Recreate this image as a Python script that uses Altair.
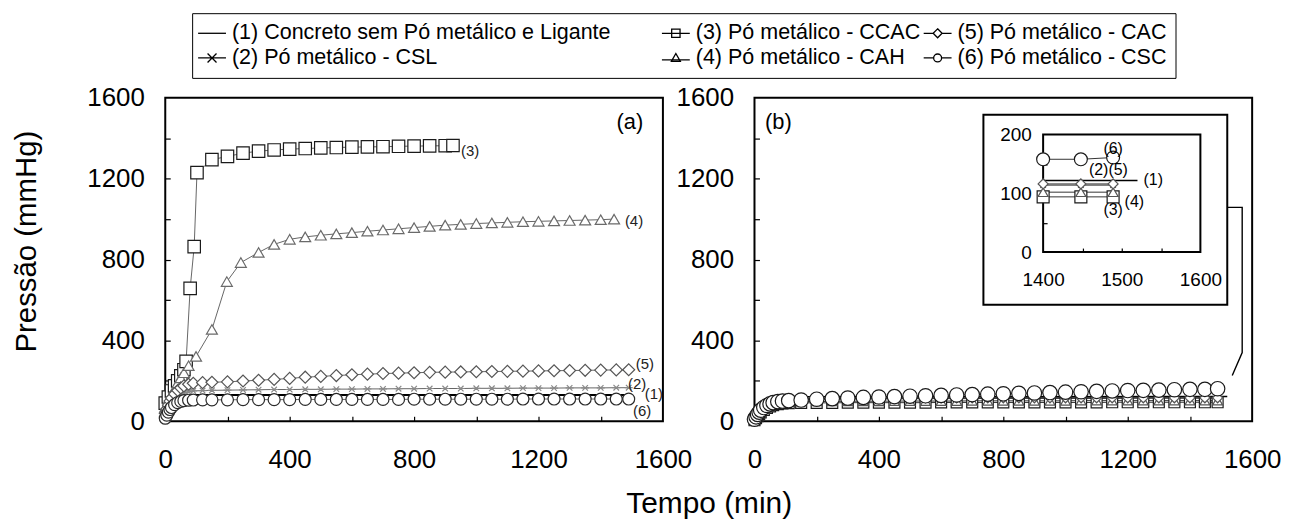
import altair as alt
import pandas as pd

FONT = "Liberation Sans"

S1 = "(1) Concreto sem Pó metálico e Ligante"
S2 = "(2) Pó metálico - CSL"
S3 = "(3) Pó metálico - CCAC"
S4 = "(4) Pó metálico - CAH"
S5 = "(5) Pó metálico - CAC"
S6 = "(6) Pó metálico - CSC"

# ---------------- panel (a) ----------------
TA = [0, 5, 10, 15, 20, 30, 40, 50, 60, 75, 90, 120, 150, 200, 250, 300, 350, 400, 450, 500,
      550, 600, 650, 700, 750, 800, 850, 900, 950, 1000, 1050, 1100, 1150, 1200, 1250, 1300,
      1350, 1400, 1450, 1490]
A1_T = [0, 10, 20, 30, 40, 50, 60, 80, 1490]
A1_P = [35, 65, 90, 108, 120, 126, 129, 130, 130]
A2_P = [25, 40, 55, 70, 85, 105, 120, 132, 140, 146, 150, 152, 153, 154, 155, 156, 157, 157, 158, 158,
        159, 159, 160, 160, 161, 161, 162, 162, 162, 163, 163, 163, 164, 164, 164, 165, 165, 165, 166, 166]
A3_T = [0, 10, 20, 30, 40, 50, 60, 67, 80, 93, 102, 150, 200, 250, 300, 350, 400, 450, 500, 550,
        600, 650, 700, 750, 800, 850, 900, 925]
A3_P = [90, 120, 150, 175, 200, 225, 255, 296, 657, 864, 1230, 1294, 1310, 1326, 1336, 1342, 1346, 1349,
        1352, 1354, 1356, 1357, 1358, 1360, 1361, 1362, 1363, 1364]
A4_T = [0, 10, 20, 30, 40, 50, 60, 75, 99, 150, 198, 243, 300, 350, 400, 450, 500, 550, 600, 650,
        700, 750, 800, 850, 900, 950, 1000, 1050, 1100, 1150, 1200, 1250, 1300, 1350, 1400, 1443]
A4_P = [70, 100, 130, 160, 190, 215, 240, 275, 321, 454, 691, 785, 835, 875, 900, 912, 920, 927, 933, 940,
        946, 952, 958, 964, 970, 974, 978, 981, 984, 987, 989, 991, 993, 995, 997, 1000]
A5_P = [40, 60, 80, 100, 115, 135, 152, 165, 175, 183, 188, 191, 193, 195, 199, 203, 207, 212, 218, 222,
        226, 230, 233, 236, 238, 240, 242, 243, 244, 245, 246, 247, 248, 249, 250, 251, 252, 253, 254, 255]
A6_P = [15, 30, 45, 58, 68, 82, 92, 98, 102, 104, 105, 106, 106, 106, 107, 107, 107, 107, 108, 108,
        108, 108, 108, 108, 108, 109, 109, 109, 109, 109, 109, 109, 110, 110, 110, 110, 110, 110, 110, 110]

# ---------------- panel (b) ----------------
TB = [0, 5, 10, 15, 20, 30, 40, 50, 60, 75, 90, 110, 150, 200, 250, 300, 350, 400, 450, 500,
      550, 600, 650, 700, 750, 800, 850, 900, 950, 1000, 1050, 1100, 1150, 1200, 1250, 1300,
      1350, 1400, 1448, 1489]
B1_T = [0, 10, 20, 30, 40, 60, 80, 100, 150, 1400, 1520]
B1_P = [15, 40, 62, 80, 94, 108, 115, 119, 121, 122, 122]
B2_P = [10, 22, 34, 46, 56, 70, 82, 90, 96, 101, 104, 106, 108, 109, 110, 110, 111, 111, 111, 112,
        112, 112, 112, 112, 113, 113, 113, 113, 113, 113, 113, 113, 113, 114, 114, 114, 114, 114, 114, 114]
B3_P = [5, 15, 25, 35, 44, 56, 66, 74, 80, 85, 88, 90, 91, 91, 91, 92, 92, 92, 92, 92,
        92, 93, 93, 93, 93, 93, 93, 93, 93, 93, 93, 93, 94, 94, 94, 94, 94, 94, 94, 94]
B4_P = [8, 18, 28, 38, 47, 60, 70, 78, 85, 90, 94, 96, 97, 98, 98, 99, 99, 99, 100, 100,
        100, 100, 100, 101, 101, 101, 101, 101, 101, 101, 102, 102, 102, 102, 102, 102, 102, 102, 102, 102]
B5_P = [12, 25, 38, 50, 60, 74, 86, 94, 100, 105, 108, 110, 111, 112, 113, 113, 114, 114, 114, 115,
        115, 115, 115, 115, 115, 116, 116, 116, 116, 116, 116, 116, 116, 116, 116, 116, 116, 116, 116, 116]
B6_P = [10, 22, 34, 45, 55, 68, 78, 86, 92, 97, 100, 102, 105, 109, 112, 115, 118, 120, 122, 124,
        126, 128, 130, 132, 134, 136, 138, 140, 142, 144, 146, 148, 150, 152, 153, 154, 156, 158, 158, 161]

# tick values and annotations
MAIN_TICKS = [0, 400, 800, 1200, 1600]
MINOR_TICKS = [200, 400, 600, 800, 1000, 1200, 1400]
INSET_X_TICKS = [1400, 1500, 1600]
INSET_Y_TICKS = [0, 100, 200]
INSET_X_MINOR = [1450, 1500, 1550]
INSET_Y_MINOR = [50, 100, 150]

LAB_A = ["(3)", "(4)", "(5)", "(2)", "(1)", "(6)"]
LAB_A_T = [980, 1507, 1542, 1517, 1571, 1533]
LAB_A_P = [1335, 990, 281, 183, 133, 49]
LAB_I = ["(6)", "(2)(5)", "(1)", "(4)", "(3)"]
LAB_I_T = [1489, 1483, 1540, 1516, 1489]
LAB_I_P = [176, 139, 122, 85, 71]
BOX_T = [736, 1520]
BOX_P = [576, 1516]
CONN_T = [1520, 1568, 1568, 1536]
CONN_P = [1058, 1058, 340, 226]


def long_table(specs):
    rows = []
    for name, ts, ps in specs:
        for k, (t, p) in enumerate(zip(ts, ps)):
            rows.append({"s": name, "t": t, "p": p, "k": k})
    return pd.DataFrame(rows)


df_a = long_table([(S1, A1_T, A1_P), (S2, TA, A2_P), (S3, A3_T, A3_P),
                   (S4, A4_T, A4_P), (S5, TA, A5_P), (S6, TA, A6_P)])
df_b = long_table([(S1, B1_T, B1_P), (S2, TB, B2_P), (S3, TB, B3_P),
                   (S4, TB, B4_P), (S5, TB, B5_P), (S6, TB, B6_P)])
df_i = df_b[df_b["t"] >= 1400].reset_index(drop=True)

XA = alt.Scale(domain=[0, 1600], range=[0, 500], nice=False, zero=False)
XB = alt.Scale(domain=[0, 1600], range=[592, 1092], nice=False, zero=False)
XI = alt.Scale(domain=[1400, 1600], range=[882, 1040], nice=False, zero=False)
YM = alt.Scale(domain=[0, 1600], range=[325, 0], nice=False, zero=False)
YI = alt.Scale(domain=[0, 200], range=[155, 37], nice=False, zero=False)

MARKED = [S2, S3, S4, S5, S6]
ASTER = "M-1,0H1M-0.7,-0.7L0.7,0.7M-0.7,0.7L0.7,-0.7"
SHAPES = [ASTER, "square", "triangle-up", "diamond", "circle"]


def label_axis(orient, values, fs, pad, offset=0, title=None, **kw):
    return alt.Axis(orient=orient, offset=offset, values=values, labelFontSize=fs, labelPadding=pad,
                    labelFont=FONT, labelColor="black", labelFlush=False, labelOverlap=False,
                    labelBound=False, domain=False, ticks=False, tickSize=0, grid=False, format="d",
                    title=title, **kw)


def tick_axis(orient, offset, values, size):
    return alt.Axis(orient=orient, offset=offset, values=values, labels=False, domain=False,
                    grid=False, ticks=True, tickSize=size, tickColor="black", tickWidth=1.2,
                    title=None)


def frame(x0, x1, y0, y1, xs, ys, xaxis=None, yaxis=None, width=2.0, opacity=1.0):
    d = pd.DataFrame({"x0": [x0], "x1": [x1], "y0": [y0], "y1": [y1]})
    return alt.Chart(d).mark_rect(fill="transparent", stroke="black", strokeWidth=width,
                                  strokeOpacity=opacity).encode(
        x=alt.X("x0", type="quantitative", scale=xs, axis=xaxis), x2="x1",
        y=alt.Y("y0", type="quantitative", scale=ys, axis=yaxis), y2="y1")


def data_layers(df, xs, ys, sizes, strokes, line_color, main_w):
    x = alt.X("t", type="quantitative", scale=xs, axis=None)
    y = alt.Y("p", type="quantitative", scale=ys, axis=None)
    others = df[df["s"] != S1]
    lines = alt.Chart(others).mark_line(color=line_color, strokeWidth=1).encode(
        x=x, y=y, detail="s:N", order=alt.Order("k:Q"))
    main = alt.Chart(df[df["s"] == S1]).mark_line(color="black", strokeWidth=main_w).encode(
        x=x, y=y, order=alt.Order("k:Q"))
    pts = alt.Chart(others).mark_point(filled=True, fill="white", strokeWidth=1.2, opacity=1).encode(
        x=x, y=y,
        shape=alt.Shape("s:N", scale=alt.Scale(domain=MARKED, range=SHAPES), legend=None),
        size=alt.Size("s:N", scale=alt.Scale(type="ordinal", domain=MARKED, range=sizes), legend=None),
        stroke=alt.Stroke("s:N", scale=alt.Scale(domain=MARKED, range=strokes), legend=None),
    )
    return [lines, main, pts]


def text_layer(texts, ts, ps, xs, ys, fs, color="black"):
    d = pd.DataFrame({"lab": texts, "t": ts, "p": ps})
    return alt.Chart(d).mark_text(font=FONT, fontSize=fs, align="center", baseline="middle",
                                  color=color).encode(
        x=alt.X("t", type="quantitative", scale=xs, axis=None),
        y=alt.Y("p", type="quantitative", scale=ys, axis=None),
        text="lab:N")


layers = []

# panel (a)
layers.append(frame(0, 1600, 0, 1600, XA, YM,
                    label_axis("bottom", MAIN_TICKS, 26, 25, title="Tempo (min)", titleFontSize=30,
                               titleFont=FONT, titleFontWeight="normal", titleColor="black",
                               titleX=546, titleY=83, titleBaseline="middle", titleAlign="center"),
                    label_axis("left", MAIN_TICKS, 26, 21, title="Pressão (mmHg)", titleFontSize=29.5,
                               titleFont=FONT, titleFontWeight="normal", titleColor="black",
                               titleX=-139, titleY=144, titleAngle=270, titleBaseline="middle",
                               titleAlign="center")))
layers.append(frame(0, 1600, 0, 1600, XA, YM, tick_axis("top", -325, MINOR_TICKS, 5),
                    tick_axis("right", -1092, MINOR_TICKS, 5), opacity=0))
layers += data_layers(df_a, XA, YM, [64, 156, 121, 144, 144],
                      ["#8a8a8a", "#1a1a1a", "#6a6a6a", "#555555", "#2a2a2a"], "#666666", 2)
layers.append(text_layer(LAB_A, LAB_A_T, LAB_A_P, XA, YM, 15, "#222222"))
layers.append(text_layer(["(a)"], [1494], [1481], XA, YM, 22))

# panel (b)
layers.append(frame(0, 1600, 0, 1600, XB, YM,
                    label_axis("bottom", MAIN_TICKS, 26, 25),
                    label_axis("left", MAIN_TICKS, 26, 21, offset=-592)))
layers.append(frame(0, 1600, 0, 1600, XB, YM, tick_axis("top", -325, MINOR_TICKS, 5),
                    tick_axis("right", -500, MINOR_TICKS, 5), opacity=0))
layers += data_layers(df_b, XB, YM, [49, 121, 100, 100, 210],
                      ["#555555", "#1a1a1a", "#555555", "#555555", "#1a1a1a"], "#333333", 1.5)
layers.append(text_layer(["(b)"], [77], [1481], XB, YM, 22))

# inset callout box and connector (panel b coordinates)
layers.append(frame(BOX_T[0], BOX_T[1], BOX_P[0], BOX_P[1], XB, YM, width=2))
conn_df = pd.DataFrame({"t": CONN_T, "p": CONN_P, "k": list(range(len(CONN_T)))})
layers.append(alt.Chart(conn_df).mark_line(color="black", strokeWidth=1.4).encode(
    x=alt.X("t", type="quantitative", scale=XB, axis=None),
    y=alt.Y("p", type="quantitative", scale=YM, axis=None),
    order=alt.Order("k:Q")))

# inset
layers.append(frame(1400, 1600, 0, 200, XI, YI,
                    label_axis("bottom", INSET_X_TICKS, 19, 19, offset=-170),
                    label_axis("left", INSET_Y_TICKS, 19, 12, offset=-882)))
layers.append(frame(1400, 1600, 0, 200, XI, YI, tick_axis("top", -155, INSET_X_MINOR, 4),
                    tick_axis("right", -210, INSET_Y_MINOR, 4), opacity=0))
layers += data_layers(df_i, XI, YI, [64, 144, 100, 100, 169],
                      ["#555555", "#1a1a1a", "#555555", "#555555", "#1a1a1a"], "#333333", 1.5)
layers.append(text_layer(LAB_I, LAB_I_T, LAB_I_P, XI, YI, 16))

# legend (drawn by Vega-Lite from a shape scale)
LEG_ORDER = [S1, S3, S5, S2, S4, S6]
LEG_PATHS = [
    "M-1.4,0H1.4",
    "M-1.4,0H1.4M-0.42,-0.42H0.42V0.42H-0.42Z",
    "M-1.4,0H-0.45M0.45,0H1.4M0,-0.45L0.45,0L0,0.45L-0.45,0Z",
    "M-1.4,0H1.4M-0.45,-0.45L0.45,0.45M-0.45,0.45L0.45,-0.45",
    "M-1.4,0.2H1.4M0,-0.45L0.45,0.35H-0.45Z",
    "M-1.4,0H-0.4M0.4,0H1.4M0.4,0A0.4,0.4,0,1,1,-0.4,0A0.4,0.4,0,1,1,0.4,0Z",
]
# widen the first legend column (trailing no-break spaces kept by a zero-width char)
PAD = "\u00a0" * 8 + "\u200b"
leg_expr = "datum.label === '" + S1 + "' ? '" + S1 + PAD + "' : datum.label"
legend_layer = alt.Chart(pd.DataFrame({"s": LEG_ORDER})).transform_filter("false").mark_point(
    filled=False, color="black", strokeWidth=1.3).encode(
    shape=alt.Shape("s:N", scale=alt.Scale(domain=LEG_ORDER, range=LEG_PATHS),
                    legend=alt.Legend(title=None, orient="none", legendX=27, legendY=-85, columns=3,
                                      direction="horizontal", symbolSize=400, symbolStrokeWidth=1.3,
                                      symbolStrokeColor="black", symbolFillColor="white",
                                      symbolOpacity=1,
                                      labelFontSize=21.6, labelFont=FONT, labelColor="black",
                                      labelOffset=9, labelLimit=2000, columnPadding=0, rowPadding=3,
                                      padding=9, strokeColor="black", fillColor="white",
                                      labelExpr=leg_expr)))
layers.append(legend_layer)

chart = alt.layer(*layers).resolve_scale(
    x="independent", y="independent", shape="independent", size="independent", stroke="independent"
).properties(
    width=1092, height=325,
    autosize=alt.AutoSizeParams(type="none"),
    padding={"left": 158, "top": 89, "right": 31, "bottom": 100},
).configure(font=FONT).configure_view(stroke=None)

chart.save("out.html", embed_options={"renderer": "svg", "actions": False})
